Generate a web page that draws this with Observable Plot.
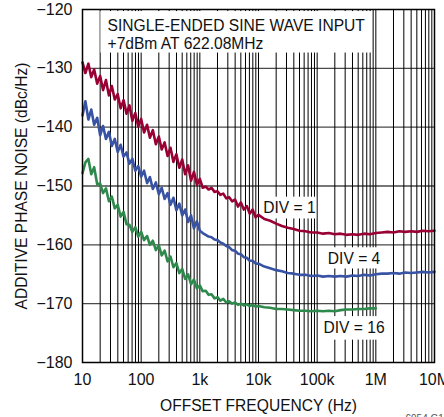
<!DOCTYPE html>
<html><head><meta charset="utf-8">
<script src="https://cdn.jsdelivr.net/npm/d3@7"></script>
<script src="https://cdn.jsdelivr.net/npm/@observablehq/plot@0.6"></script>
<style>body{margin:0;background:#fff} #chart svg{display:block}</style>
</head><body><div id="chart"></div>
<script>
const freqs = [10, 11.2, 12.6, 14.1, 15.8, 17.8, 20, 22.4, 25.1, 28.2, 31.6, 35.5, 39.8, 44.7, 50.1, 56.2, 63.1, 70.8, 79.4, 89.1,
  100, 112, 126, 141, 158, 178, 200, 224, 251, 282, 316, 355, 398, 447, 501, 562, 631, 708, 794, 891,
  1000, 1120, 1260, 1410, 1580, 1780, 2000, 2240, 2510, 2820, 3160, 3550, 3980, 4470, 5010, 5620, 6310, 7080, 7940, 8910,
  10000, 12600, 15800, 20000, 25100, 31600, 39800, 50100, 63100, 79400,
  1e5, 1.26e5, 1.58e5, 2e5, 2.51e5, 3.16e5, 3.98e5, 5.01e5, 6.31e5, 7.94e5,
  1e6, 1.26e6, 1.58e6, 2e6, 2.51e6, 3.16e6, 3.98e6, 5.01e6, 6.31e6, 7.94e6, 1e7];

const div1 = [-129.0, -130.8, -129.2, -131.5, -130.2, -132.6, -131.3, -133.7, -132.0, -134.6, -133.0, -135.3, -134.4, -136.8, -135.4, -137.7, -136.3, -138.9, -137.6, -139.9,
  -138.6, -140.9, -139.6, -141.8, -140.5, -142.9, -141.6, -143.8, -142.6, -144.9, -143.5, -145.9, -144.6, -146.9, -145.5, -148.0, -146.5, -149.1, -147.6, -149.8,
  -148.8, -150.3, -150.1, -150.6, -150.3, -151.0, -150.9, -151.5, -151.3, -152.1, -151.9, -152.6, -152.3, -153.5, -152.8, -154.0, -153.4, -154.7, -154.0, -155.3,
  -154.9, -155.6, -155.9, -156.4, -156.8, -157.1, -157.3, -157.6, -157.7, -157.9,
  -157.9, -158.1, -158.0, -158.2, -158.1, -158.3, -158.2, -158.3, -158.1, -158.2,
  -158.0, -157.9, -157.8, -157.9, -157.7, -157.8, -157.7, -157.8, -157.6, -157.7, -157.6];

const div4 = [-138.0, -135.6, -138.7, -137.0, -139.6, -138.4, -141.4, -139.8, -142.0, -140.8, -143.2, -142.0, -144.2, -143.0, -145.0, -144.3, -146.2, -145.4, -147.4, -146.6,
  -148.4, -147.4, -149.5, -148.5, -150.5, -149.4, -151.4, -150.3, -152.2, -151.2, -153.2, -152.0, -154.1, -153.0, -155.0, -154.0, -156.1, -155.0, -157.2, -156.0,
  -157.6, -158.0, -158.3, -158.6, -158.7, -159.1, -159.2, -159.6, -159.8, -160.2, -160.4, -160.9, -161.0, -161.5, -161.6, -162.1, -162.2, -162.7, -162.7, -163.2,
  -163.2, -163.7, -164.0, -164.3, -164.5, -164.8, -164.9, -165.1, -165.1, -165.3,
  -165.2, -165.4, -165.3, -165.4, -165.3, -165.4, -165.2, -165.3, -165.1, -165.2,
  -165.0, -164.9, -164.9, -164.8, -164.9, -164.7, -164.8, -164.7, -164.6, -164.7, -164.6];

const div16 = [-147.8, -146.0, -145.4, -148.0, -146.8, -149.7, -149.6, -151.2, -150.4, -152.6, -151.8, -153.8, -153.2, -155.2, -154.4, -156.5, -156.6, -157.8, -157.0, -158.6,
  -157.8, -159.2, -158.5, -160.0, -159.3, -160.9, -160.1, -161.8, -161.0, -162.8, -162.0, -163.8, -163.1, -164.8, -164.1, -165.8, -165.0, -166.7, -165.9, -167.4,
  -166.9, -167.9, -167.8, -168.5, -168.4, -169.1, -168.9, -169.5, -169.2, -169.8, -169.6, -170.0, -169.8, -170.2, -170.0, -170.3, -170.1, -170.4, -170.2, -170.5,
  -170.4, -170.6, -170.7, -170.9, -170.9, -171.0, -171.1, -171.2, -171.2, -171.3,
  -171.2, -171.3, -171.2, -171.3, -171.1, -171.0, -171.0, -170.9, -170.9, -170.8,
  -170.8];

const seriesNames = ["DIV = 1", "DIV = 4", "DIV = 16"];
const seriesColors = ["#990033", "#3853a4", "#2e8a4c"];
const xTicks = [10, 100, 1e3, 1e4, 1e5, 1e6, 1e7];
const xTickLabels = ["10", "100", "1k", "10k", "100k", "1M", "10M"];
const yTicks = [-180, -170, -160, -150, -140, -130, -120];
const noteLines = ["SINGLE-ENDED SINE WAVE INPUT", "+7dBm AT 622.08MHz"];
const xTitle = "OFFSET FREQUENCY (Hz)";
const yTitle = "ADDITIVE PHASE NOISE (dBc/Hz)";
const figId = "6954 G17";

const seriesValues = [div1, div4, div16];
const rows = seriesValues.flatMap((vals, s) =>
  vals.map((v, i) => ({f: freqs[i], v, s: seriesNames[s]})));

// log grid lines 1..9 per decade
const gridX = [];
for (let e = 1; e < 7; e++) for (let k = 1; k < 10; k++) gridX.push(k * 10 ** e);
gridX.push(1e7);

const font = "'Liberation Sans', Arial, Helvetica, sans-serif";
const fs = 15.6;

const whiteBoxes = [
  {x1: 20.6, x2: 850000, y1: -120.35, y2: -127.4},
  {x1: 10500, x2: 98000, y1: -151.9, y2: -155.6},
  {x1: 125000, x2: 1350000, y1: -160.5, y2: -164.1},
  {x1: 110000, x2: 1600000, y1: -172.2, y2: -176.2}
];

const plot = Plot.plot({
  width: 444,
  height: 417,
  marginLeft: 82,
  marginRight: 10,
  marginTop: 9,
  marginBottom: 55,
  style: {fontFamily: font, fontSize: fs + "px", color: "#111", background: "#fff"},
  x: {type: "log", domain: [10, 1e7]},
  y: {domain: [-180, -120]},
  color: {domain: seriesNames, range: seriesColors},
  marks: [
    Plot.ruleY(yTicks.slice(1, -1), {stroke: "#4a4a4a", strokeWidth: 1.4}),
    Plot.ruleX(gridX, {stroke: "#000", strokeWidth: 1}),
    Plot.rect(whiteBoxes, {x1: "x1", x2: "x2", y1: "y1", y2: "y2", fill: "#fff"}),
    Plot.line(rows, {x: "f", y: "v", z: "s", stroke: "s", strokeWidth: 2.6, strokeLinejoin: "round"}),
    Plot.frame({stroke: "#000", strokeWidth: 1.5}),
    Plot.text([noteLines.join("\n")], {x: 26.7, y: -124.25, text: d => d, textAnchor: "start", lineAnchor: "middle", lineHeight: 1.16, fontSize: fs, fill: "#111"}),
    Plot.text([seriesNames[0]], {x: 33700, y: -153.8, text: d => d, fontSize: fs, fill: "#111"}),
    Plot.text([seriesNames[1]], {x: 425000, y: -162.4, text: d => d, fontSize: fs, fill: "#111"}),
    Plot.text([seriesNames[2]], {x: 425000, y: -174.1, text: d => d, fontSize: fs, fill: "#111"}),
    Plot.axisX(xTicks, {tickSize: 0, tickPadding: 11, tickFormat: d => xTickLabels[xTicks.indexOf(d)], fontSize: 16, label: null}),
    Plot.axisY(yTicks, {tickSize: 0, tickPadding: 10, tickFormat: d => "\u2212" + Math.abs(d), fontSize: 16, label: null}),
    Plot.text([xTitle], {frameAnchor: "bottom", dy: 43, textAnchor: "middle", lineAnchor: "middle", text: d => d, fontSize: fs, fill: "#111"}),
    Plot.text([yTitle], {frameAnchor: "left", dx: -61, dy: 0, rotate: -90, textAnchor: "middle", lineAnchor: "middle", text: d => d, fontSize: fs, fill: "#111"}),
    Plot.text([figId], {frameAnchor: "bottom-right", dx: -29, dy: 59, textAnchor: "start", lineAnchor: "bottom", text: d => d, fontSize: 10, fill: "#555"})
  ]
});
document.getElementById("chart").appendChild(plot);
</script>
</body></html>
